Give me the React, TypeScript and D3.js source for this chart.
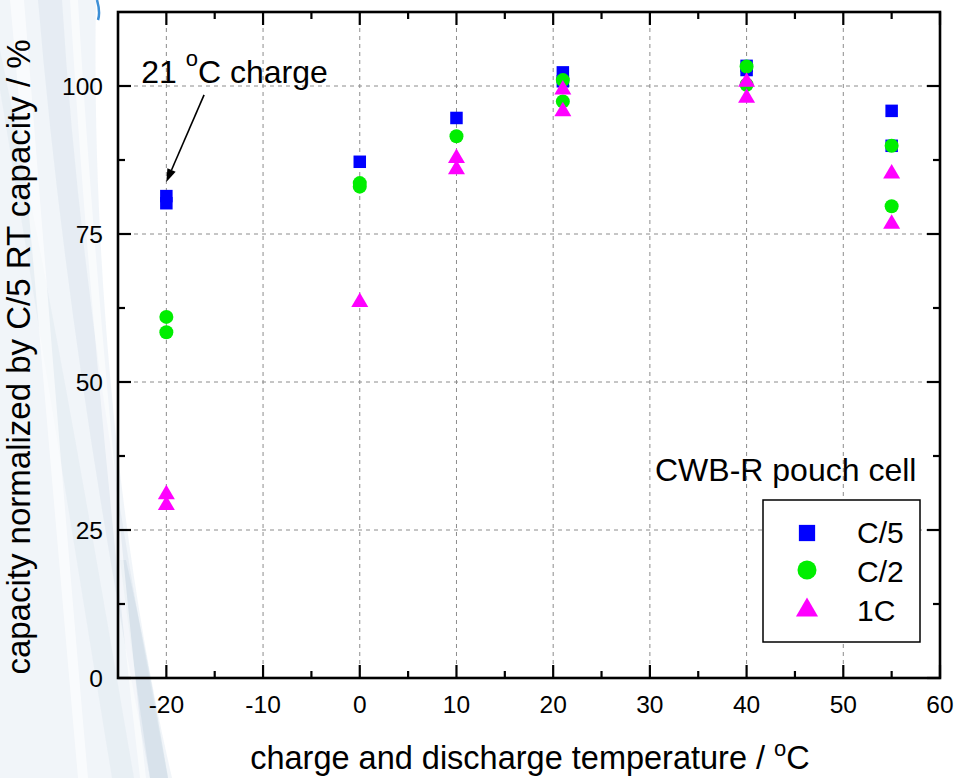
import React from "react";
import * as d3 from "d3";

// Discharge capacity vs. temperature for a CWB-R pouch cell at three rates
const c5Temp = [-20, -20, 0, 10, 21, 21, 40, 40, 55, 55];
const c5Cap = [81.4, 80.2, 87.2, 94.6, 102.3, 100.8, 103.4, 102.7, 95.8, 89.9];

const c2Temp = [-20, -20, 0, 0, 10, 21, 21, 40, 40, 55, 55];
const c2Cap = [61.0, 58.4, 83.6, 83.0, 91.5, 101.0, 97.4, 103.3, 100.2, 89.9, 79.7];

const c1Temp = [-20, -20, 0, 10, 10, 21, 21, 40, 40, 55, 55];
const c1Cap = [31.4, 29.6, 63.9, 88.2, 86.3, 99.8, 96.1, 101.1, 98.4, 85.6, 77.1];

const seriesNames = ["C/5", "C/2", "1C"];
const seriesColors = ["#0000ff", "#00ee00", "#ff00ff"];

const xMajorTicks = [-20, -10, 0, 10, 20, 30, 40, 50, 60];
const xMinorTicks = [-15, -5, 5, 15, 25, 35, 45, 55];
const xTickLabels = ["-20", "-10", "0", "10", "20", "30", "40", "50", "60"];
const yMajorTicks = [0, 25, 50, 75, 100];
const yMinorTicks = [12.5, 37.5, 62.5, 87.5];
const yTickLabels = ["0", "25", "50", "75", "100"];

const W = 957;
const H = 778;
const FONT = "'Liberation Sans', Arial, Helvetica, sans-serif";

const triPath = (cx: number, cy: number, w: number, h: number) =>
  `M${cx},${cy - h / 2}L${cx + w / 2},${cy + h / 2}L${cx - w / 2},${cy + h / 2}Z`;

function Marker({ kind, cx, cy, scale = 1, color }: { kind: number; cx: number; cy: number; scale?: number; color: string }) {
  if (kind === 0) {
    const s = 12.5 * scale;
    return <rect x={cx - s / 2} y={cy - s / 2} width={s} height={s} fill={color} />;
  }
  if (kind === 1) {
    return <circle cx={cx} cy={cy} r={7 * scale} fill={color} />;
  }
  return <path d={triPath(cx, cy, 17 * scale, 14.5 * scale)} fill={color} />;
}

export default function App() {
  const left = 118, right = 940, top = 12, bottom = 678;
  const x = d3.scaleLinear().domain([-25, 60]).range([left, right]);
  const y = d3.scaleLinear().domain([0, 112.5]).range([bottom, top]);

  const series = [
    { t: c5Temp, v: c5Cap },
    { t: c2Temp, v: c2Cap },
    { t: c1Temp, v: c1Cap },
  ];

  // annotation arrow: from under the label down to the C/5 point at -20 °C
  const arrowX0 = x(-16.1), arrowY0 = y(98.5);
  const arrowX1 = x(c5Temp[0]), arrowY1 = y(c5Cap[0] + 2.4);
  const ang = Math.atan2(arrowY1 - arrowY0, arrowX1 - arrowX0);
  const headL = 13, headW = 4.5;
  const hbx = arrowX1 - headL * Math.cos(ang), hby = arrowY1 - headL * Math.sin(ang);
  const head = `M${arrowX1},${arrowY1}L${hbx + headW * Math.sin(ang)},${hby - headW * Math.cos(ang)}L${hbx - headW * Math.sin(ang)},${hby + headW * Math.cos(ang)}Z`;

  const lx = 807;
  const legendRowY = (i: number) => 533 + i * 37;

  return (
    <svg width={W} height={H} style={{ position: "absolute", left: 0, top: 0, background: "#fff" }} fontFamily={FONT}>
      {/* soft slide backdrop on the left edge */}
      <g>
        <path d="M0,0 L96,0 C92,220 112,520 172,778 L0,778 Z" fill="#eef3f7" opacity={0.8} />
        <path d="M0,90 C35,300 70,520 112,778 L134,778 C90,520 52,300 0,50 Z" fill="#dbe5ed" opacity={0.4} />
        <path d="M38,0 C60,260 100,520 150,778 L168,778 C118,520 78,260 62,0 Z" fill="#d2dee8" opacity={0.35} />
        <path d="M120,560 C130,640 140,710 150,778 L168,778 C155,700 142,630 126,560 Z" fill="#c8d6e2" opacity={0.45} />
        <path d="M10,0 C30,220 50,460 78,778 L88,778 C60,460 42,220 24,0 Z" fill="#ffffff" opacity={0.6} />
        <path d="M70,0 C84,240 110,520 140,778 L146,778 C118,520 92,240 78,0 Z" fill="#ffffff" opacity={0.55} />
        <path d="M97,0 C99,7 100,14 98,20" fill="none" stroke="#3d8fd6" strokeWidth={2.5} />
      </g>

      {/* grid */}
      <g stroke="#8c8c8c" strokeWidth={1} strokeDasharray="4,4">
        {xMajorTicks.filter((t) => t < 60).map((t) => (
          <line key={"gx" + t} x1={x(t)} x2={x(t)} y1={top} y2={bottom} />
        ))}
        {yMajorTicks.filter((t) => t > 0).map((t) => (
          <line key={"gy" + t} x1={left} x2={right} y1={y(t)} y2={y(t)} />
        ))}
      </g>

      {/* data points */}
      {series.map((s, si) => (
        <g key={"s" + si}>
          {s.t.map((t, i) => (
            <Marker key={i} kind={si} cx={x(t)} cy={y(s.v[i])} color={seriesColors[si]} />
          ))}
        </g>
      ))}

      {/* frame and ticks */}
      <g stroke="#000" strokeWidth={2.2}>
        {xMajorTicks.map((t) => (
          <g key={"xt" + t}>
            <line x1={x(t)} x2={x(t)} y1={bottom} y2={bottom - 13} />
            <line x1={x(t)} x2={x(t)} y1={top} y2={top + 13} />
          </g>
        ))}
        {xMinorTicks.map((t) => (
          <g key={"xm" + t}>
            <line x1={x(t)} x2={x(t)} y1={bottom} y2={bottom - 7} />
            <line x1={x(t)} x2={x(t)} y1={top} y2={top + 7} />
          </g>
        ))}
        {yMajorTicks.map((t) => (
          <g key={"yt" + t}>
            <line x1={left} x2={left + 13} y1={y(t)} y2={y(t)} />
            <line x1={right} x2={right - 13} y1={y(t)} y2={y(t)} />
          </g>
        ))}
        {yMinorTicks.map((t) => (
          <g key={"ym" + t}>
            <line x1={left} x2={left + 7} y1={y(t)} y2={y(t)} />
            <line x1={right} x2={right - 7} y1={y(t)} y2={y(t)} />
          </g>
        ))}
      </g>
      <rect x={left} y={top} width={right - left} height={bottom - top} fill="none" stroke="#000" strokeWidth={2.6} />

      {/* tick labels */}
      <g fontSize={24.5} fill="#000">
        {xMajorTicks.map((t, i) => (
          <text key={"xl" + t} x={x(t)} y={713} textAnchor="middle">{xTickLabels[i]}</text>
        ))}
        {yMajorTicks.map((t, i) => (
          <text key={"yl" + t} x={103} y={y(t) + 8.8} textAnchor="end">{yTickLabels[i]}</text>
        ))}
      </g>

      {/* axis titles */}
      <text x={(left + right) / 2 + 1} y={769} textAnchor="middle" fontSize={32.5} fill="#000">
        charge and discharge temperature / <tspan fontSize={22} dy={-13}>o</tspan><tspan dy={13}>C</tspan>
      </text>
      <text transform={`translate(30,${357}) rotate(-90)`} textAnchor="middle" fontSize={33} fill="#000">
        capacity normalized by C/5 RT capacity / %
      </text>

      {/* annotation */}
      <text x={x(-22.6)} y={y(100.5)} fontSize={32} fill="#000">
        21 <tspan fontSize={22} dy={-17}>o</tspan><tspan dy={17}>C charge</tspan>
      </text>
      <line x1={arrowX0} y1={arrowY0} x2={hbx} y2={hby} stroke="#000" strokeWidth={1.6} />
      <path d={head} fill="#000" />

      <text x={655} y={481} fontSize={32} fill="#000">CWB-R pouch cell</text>

      {/* legend */}
      <rect x={763} y={500} width={157} height={142} fill="#fff" stroke="#000" strokeWidth={1.5} />
      {seriesNames.map((n, i) => (
        <g key={n}>
          <Marker kind={i} cx={lx} cy={legendRowY(i)} scale={i === 0 ? 1.3 : i === 1 ? 1.36 : 1.3} color={seriesColors[i]} />
          <text x={857} y={543 + i * 39} fontSize={30} fill="#000">{n}</text>
        </g>
      ))}
    </svg>
  );
}
